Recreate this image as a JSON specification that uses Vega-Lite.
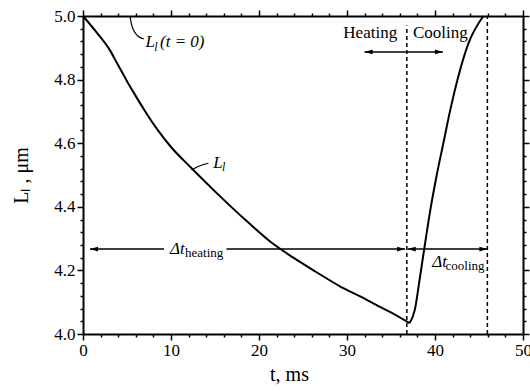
{
  "$schema": "https://vega.github.io/schema/vega-lite/v6.json",
  "autosize": "none",
  "width": 440,
  "height": 318,
  "padding": {"left": 83, "top": 16, "right": 7, "bottom": 57},
  "background": "white",
  "config": {"view": {"stroke": null}, "font": "Liberation Serif"},
  "datasets": {
    "curve": [
      {"phase": "heating", "t": 0, "L": 5.0}, {"phase": "heating", "t": 1.5, "L": 4.95}, {"phase": "heating", "t": 3.0, "L": 4.895},
      {"phase": "heating", "t": 4.0, "L": 4.845}, {"phase": "heating", "t": 5.0, "L": 4.795}, {"phase": "heating", "t": 6.0, "L": 4.748},
      {"phase": "heating", "t": 7.0, "L": 4.703}, {"phase": "heating", "t": 8.4, "L": 4.645}, {"phase": "heating", "t": 10.0, "L": 4.588},
      {"phase": "heating", "t": 12.2, "L": 4.525}, {"phase": "heating", "t": 15.2, "L": 4.443}, {"phase": "heating", "t": 18.6, "L": 4.355},
      {"phase": "heating", "t": 21.3, "L": 4.29}, {"phase": "heating", "t": 23.9, "L": 4.24}, {"phase": "heating", "t": 26.5, "L": 4.195},
      {"phase": "heating", "t": 29.2, "L": 4.15}, {"phase": "heating", "t": 31.5, "L": 4.118}, {"phase": "heating", "t": 33.75, "L": 4.085},
      {"phase": "heating", "t": 35.5, "L": 4.06}, {"phase": "heating", "t": 37.1, "L": 4.034},
      {"phase": "cooling", "t": 37.1, "L": 4.034}, {"phase": "cooling", "t": 37.7, "L": 4.075}, {"phase": "cooling", "t": 38.3, "L": 4.18},
      {"phase": "cooling", "t": 38.9, "L": 4.29}, {"phase": "cooling", "t": 39.5, "L": 4.395}, {"phase": "cooling", "t": 40.2, "L": 4.5},
      {"phase": "cooling", "t": 40.95, "L": 4.6}, {"phase": "cooling", "t": 41.7, "L": 4.70}, {"phase": "cooling", "t": 42.65, "L": 4.81},
      {"phase": "cooling", "t": 43.8, "L": 4.914}, {"phase": "cooling", "t": 45.5, "L": 5.0}
    ],
    "dashed": [
      {"t": 36.8, "L1": 4.0, "L2": 4.97},
      {"t": 45.95, "L1": 4.0, "L2": 5.0}
    ],
    "segments": [
      {"t1": 0.8, "t2": 9.2, "L": 4.267},
      {"t1": 16.3, "t2": 36.6, "L": 4.267},
      {"t1": 36.9, "t2": 45.95, "L": 4.267},
      {"t1": 32.0, "t2": 40.9, "L": 4.887}
    ],
    "heads": [
      {"t": 36.6, "L": 4.267, "dir": "right"},
      {"t": 45.95, "L": 4.267, "dir": "right"},
      {"t": 40.9, "L": 4.887, "dir": "right"},
      {"t": 0.8, "L": 4.267, "dir": "left"},
      {"t": 36.9, "L": 4.267, "dir": "left"},
      {"t": 32.0, "L": 4.887, "dir": "left"}
    ],
    "leaders": [
      {"id": "a", "t": 5.34, "L": 5.0}, {"id": "a", "t": 5.5, "L": 4.975}, {"id": "a", "t": 5.75, "L": 4.955},
      {"id": "a", "t": 6.2, "L": 4.938}, {"id": "a", "t": 6.9, "L": 4.928},
      {"id": "b", "t": 12.35, "L": 4.516}, {"id": "b", "t": 13.3, "L": 4.529}, {"id": "b", "t": 14.25, "L": 4.537}
    ],
    "upright": [
      {"t": 35.7, "L": 4.946, "text": "Heating", "side": "right"},
      {"t": 37.5, "L": 4.946, "text": "Cooling", "side": "left"}
    ],
    "italic": [
      {"t": 7.1, "L": 4.918, "text": "L"},
      {"t": 8.75, "L": 4.918, "text": "(t = 0)"},
      {"t": 14.8, "L": 4.537, "text": "L"},
      {"t": 9.9, "L": 4.267, "text": "Δt"},
      {"t": 39.7, "L": 4.226, "text": "Δt"}
    ],
    "subitalic": [
      {"t": 8.1, "L": 4.903, "text": "l"},
      {"t": 15.8, "L": 4.524, "text": "l"}
    ],
    "subupright": [
      {"t": 11.6, "L": 4.254, "text": "heating"},
      {"t": 41.2, "L": 4.213, "text": "cooling"}
    ]
  },
  "resolve": {"axis": {"x": "independent", "y": "independent"}},
  "layer": [
    {
      "data": {"name": "curve"},
      "mark": {"type": "line", "color": "black", "strokeWidth": 2, "interpolate": "monotone"},
      "encoding": {
        "x": {"field": "t", "type": "quantitative",
          "scale": {"domain": [0, 50], "nice": false},
          "axis": {
            "values": [0,2,4,6,8,10,12,14,16,18,20,22,24,26,28,30,32,34,36,38,40,42,44,46,48,50],
            "labelExpr": "datum.value % 10 === 0 ? datum.label : ''",
            "tickSize": {"condition": {"test": "datum.value % 10 === 0", "value": 6}, "value": 3},
            "grid": false, "domainColor": "black", "domainWidth": 2, "tickColor": "black", "tickWidth": 1.5,
            "labelFont": "Liberation Serif", "labelFontSize": 17, "labelColor": "black", "labelPadding": 2,
            "labelFlush": false,
            "title": "t, ms", "titleFont": "Liberation Serif", "titleFontSize": 20, "titleFontWeight": "normal",
            "titleColor": "black", "titlePadding": 6, "titleX": 206
          }},
        "y": {"field": "L", "type": "quantitative",
          "scale": {"domain": [4.0, 5.0], "nice": false, "zero": false},
          "axis": {
            "values": [4.0,4.04,4.08,4.12,4.16,4.2,4.24,4.28,4.32,4.36,4.4,4.44,4.48,4.52,4.56,4.6,4.64,4.68,4.72,4.76,4.8,4.84,4.88,4.92,4.96,5.0],
            "labelExpr": "abs(datum.value*5 - round(datum.value*5)) < 0.000001 ? format(datum.value, '.1f') : ''",
            "tickSize": {"condition": {"test": "abs(datum.value*5 - round(datum.value*5)) < 0.000001", "value": 6}, "value": 3},
            "grid": false, "domainColor": "black", "domainWidth": 2, "tickColor": "black", "tickWidth": 1.5,
            "labelFont": "Liberation Serif", "labelFontSize": 17, "labelColor": "black", "labelPadding": 2,
            "labelFlush": false,
            "title": "Lₗ , μm", "titleFont": "Liberation Serif", "titleFontSize": 20, "titleFontWeight": "normal",
            "titleColor": "black", "titlePadding": 22
          }},
        "detail": {"field": "phase"}
      }
    },
    {
      "data": {"name": "dashed"},
      "mark": {"type": "rule", "color": "black", "strokeWidth": 1.5, "strokeDash": [4, 3]},
      "encoding": {
        "x": {"field": "t", "type": "quantitative",
          "axis": {
            "orient": "top",
            "values": [0,2,4,6,8,10,12,14,16,18,20,22,24,26,28,30,32,34,36,38,40,42,44,46,48,50],
            "title": "", "gridOpacity": 0, "labelOpacity": 0,
            "tickSize": {"condition": {"test": "datum.value % 10 === 0", "value": 6}, "value": 3},
            "domainColor": "black", "domainWidth": 2, "tickColor": "black", "tickWidth": 1.5
          }},
        "y": {"field": "L1", "type": "quantitative",
          "axis": {
            "orient": "right",
            "values": [4.0,4.04,4.08,4.12,4.16,4.2,4.24,4.28,4.32,4.36,4.4,4.44,4.48,4.52,4.56,4.6,4.64,4.68,4.72,4.76,4.8,4.84,4.88,4.92,4.96,5.0],
            "title": "", "gridOpacity": 0, "labelOpacity": 0,
            "tickSize": {"condition": {"test": "abs(datum.value*5 - round(datum.value*5)) < 0.000001", "value": 6}, "value": 3},
            "domainColor": "black", "domainWidth": 2, "tickColor": "black", "tickWidth": 1.5
          }},
        "y2": {"field": "L2"}
      }
    },
    {
      "data": {"name": "segments"},
      "mark": {"type": "rule", "color": "black", "strokeWidth": 1.5},
      "encoding": {
        "x": {"field": "t1", "type": "quantitative", "axis": null},
        "x2": {"field": "t2"},
        "y": {"field": "L", "type": "quantitative", "axis": null}
      }
    },
    {
      "data": {"name": "heads"},
      "transform": [{"filter": "datum.dir === 'right'"}],
      "mark": {"type": "point", "shape": "M 0 0 L -2 -0.6 L -2 0.6 Z", "size": 64, "filled": true, "color": "black", "opacity": 1},
      "encoding": {
        "x": {"field": "t", "type": "quantitative", "axis": null},
        "y": {"field": "L", "type": "quantitative", "axis": null}
      }
    },
    {
      "data": {"name": "heads"},
      "transform": [{"filter": "datum.dir === 'left'"}],
      "mark": {"type": "point", "shape": "M 0 0 L 2 -0.6 L 2 0.6 Z", "size": 64, "filled": true, "color": "black", "opacity": 1},
      "encoding": {
        "x": {"field": "t", "type": "quantitative", "axis": null},
        "y": {"field": "L", "type": "quantitative", "axis": null}
      }
    },
    {
      "data": {"name": "leaders"},
      "mark": {"type": "line", "color": "black", "strokeWidth": 1.2, "interpolate": "monotone"},
      "encoding": {
        "x": {"field": "t", "type": "quantitative", "axis": null},
        "y": {"field": "L", "type": "quantitative", "axis": null},
        "detail": {"field": "id"}
      }
    },
    {
      "data": {"name": "upright"},
      "transform": [{"filter": "datum.side === 'right'"}],
      "mark": {"type": "text", "font": "Liberation Serif", "fontSize": 17, "align": "right", "baseline": "middle", "color": "black"},
      "encoding": {
        "x": {"field": "t", "type": "quantitative", "axis": null},
        "y": {"field": "L", "type": "quantitative", "axis": null},
        "text": {"field": "text"}
      }
    },
    {
      "data": {"name": "upright"},
      "transform": [{"filter": "datum.side === 'left'"}],
      "mark": {"type": "text", "font": "Liberation Serif", "fontSize": 17, "align": "left", "baseline": "middle", "color": "black"},
      "encoding": {
        "x": {"field": "t", "type": "quantitative", "axis": null},
        "y": {"field": "L", "type": "quantitative", "axis": null},
        "text": {"field": "text"}
      }
    },
    {
      "data": {"name": "italic"},
      "mark": {"type": "text", "font": "Liberation Serif", "fontSize": 17, "fontStyle": "italic", "align": "left", "baseline": "middle", "color": "black"},
      "encoding": {
        "x": {"field": "t", "type": "quantitative", "axis": null},
        "y": {"field": "L", "type": "quantitative", "axis": null},
        "text": {"field": "text"}
      }
    },
    {
      "data": {"name": "subitalic"},
      "mark": {"type": "text", "font": "Liberation Serif", "fontSize": 12, "fontStyle": "italic", "align": "left", "baseline": "middle", "color": "black"},
      "encoding": {
        "x": {"field": "t", "type": "quantitative", "axis": null},
        "y": {"field": "L", "type": "quantitative", "axis": null},
        "text": {"field": "text"}
      }
    },
    {
      "data": {"name": "subupright"},
      "mark": {"type": "text", "font": "Liberation Serif", "fontSize": 13, "align": "left", "baseline": "middle", "color": "black"},
      "encoding": {
        "x": {"field": "t", "type": "quantitative", "axis": null},
        "y": {"field": "L", "type": "quantitative", "axis": null},
        "text": {"field": "text"}
      }
    }
  ]
}
